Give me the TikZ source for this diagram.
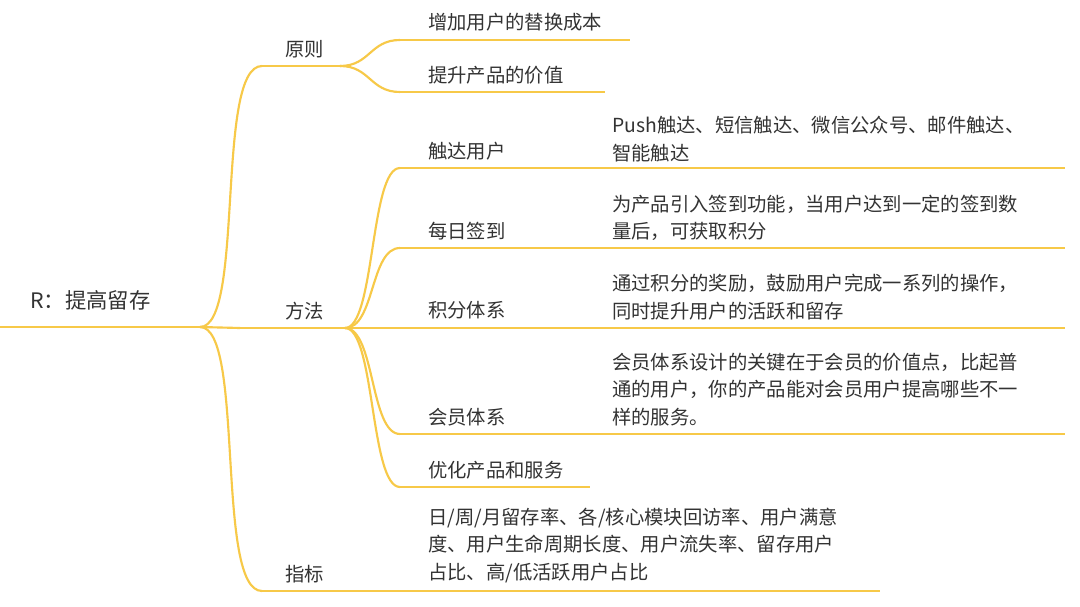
\documentclass[tikz,border=0pt]{standalone}
\usepackage{fontspec}
\setmainfont{Noto Sans CJK SC}
\begin{document}
\begin{tikzpicture}[x=0.75pt,y=-0.75pt,
  ln/.style={draw=lineY,line width=1.6pt},
  t/.style={anchor=south west,inner sep=0pt,font=\fontsize{14.5}{22}\selectfont,text=txt},
  leaf/.style={anchor=south west,inner sep=0pt,font=\fontsize{14.5}{20.5}\selectfont,text=txt,align=left}]
\definecolor{lineY}{HTML}{F7C948}
\definecolor{txt}{HTML}{333333}
\useasboundingbox[fill=white] (0,0) rectangle (1080,606);
% coordinates
\coordinate (r0) at (0,327); \coordinate (r1) at (200,327);
\coordinate (a0) at (262,66); \coordinate (a1) at (340,66);
\coordinate (b0) at (240,328); \coordinate (b1) at (345,328);
\coordinate (c0) at (262,591); \coordinate (c1) at (340,591);
\draw[ln] (r0)--(r1);
\draw[ln] (a0)--(a1); \draw[ln] (b0)--(b1); \draw[ln] (c0)--(c1);
\draw[ln] (r1) .. controls (245,327) and (215,66) .. (a0);
\draw[ln] (r1) -- (b0);
\draw[ln] (r1) .. controls (245,327) and (215,591) .. (c0);
\node[t,font=\fontsize{16}{22}\selectfont] (root) at (30,310) {R：提高留存};
\node[t] (n1) at (285,58) {原则};
\node[t] (n2) at (285,320) {方法};
\node[t] (n3) at (285,583) {指标};
% 原则 children
\coordinate (a10) at (400,40); \coordinate (a11) at (630,40);
\coordinate (a20) at (400,92); \coordinate (a21) at (605,92);
\draw[ln] (a10)--(a11); \draw[ln] (a20)--(a21);
\draw[ln] (a1) .. controls (370,66) and (370,40) .. (a10);
\draw[ln] (a1) .. controls (370,66) and (370,92) .. (a20);
\node[t] (m1) at (428,31) {增加用户的替换成本};
\node[t] (m2) at (428,84) {提升产品的价值};
% 方法 children
\foreach \y/\e/\nm in {168/1065/p1,248/1065/p2,328/1065/p3,434/1065/p4,487/590/p5}{
  \coordinate (\nm s) at (400,\y); \coordinate (\nm e) at (\e,\y);
  \draw[ln] (\nm s)--(\nm e);
  \draw[ln] (b1) .. controls (375,328) and (370,\y) .. (\nm s);
}
\node[t] (k1) at (428,160) {触达用户};
\node[t] (k2) at (428,240) {每日签到};
\node[t] (k3) at (428,319) {积分体系};
\node[t] (k4) at (428,426) {会员体系};
\node[t] (k5) at (428,479) {优化产品和服务};
\node[leaf] (l1) at (612,162) {Push触达、短信触达、微信公众号、邮件触达、\\智能触达};
\node[leaf] (l2) at (612,241) {为产品引入签到功能，当用户达到一定的签到数\\量后，可获取积分};
\node[leaf] (l3) at (612,320) {通过积分的奖励，鼓励用户完成一系列的操作，\\同时提升用户的活跃和留存};
\node[leaf] (l4) at (612,426) {会员体系设计的关键在于会员的价值点，比起普\\通的用户，你的产品能对会员用户提高哪些不一\\样的服务。};
% 指标 child
\coordinate (q0) at (400,591); \coordinate (q1) at (880,591);
\draw[ln] (c1)--(q0); \draw[ln] (q0)--(q1);
\node[leaf,font=\fontsize{14.5}{20.5}\selectfont] (z1) at (428,583) {日/周/月留存率、各/核心模块回访率、用户满意\\度、用户生命周期长度、用户流失率、留存用户\\占比、高/低活跃用户占比};
\end{tikzpicture}
\end{document}
